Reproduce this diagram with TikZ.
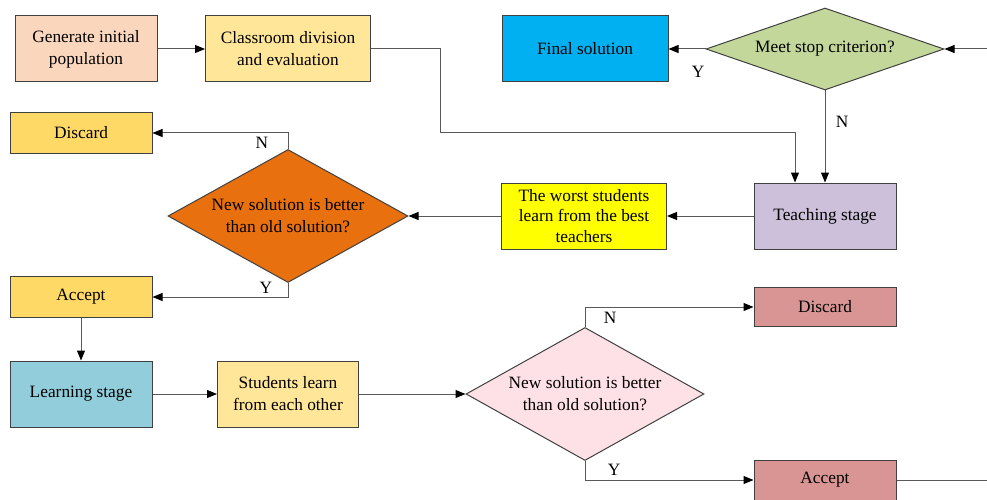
\documentclass[tikz,border=0pt]{standalone}
\usepackage{fontspec}
\setmainfont{Liberation Serif}
\usetikzlibrary{shapes.geometric,arrows.meta,calc}

\definecolor{peach}{RGB}{250,214,189}
\definecolor{sand}{RGB}{255,230,153}
\definecolor{gold}{RGB}{255,217,102}
\definecolor{rust}{RGB}{232,112,14}
\definecolor{sky}{RGB}{0,176,240}
\definecolor{sage}{RGB}{196,215,155}
\definecolor{lilac}{RGB}{204,192,218}
\definecolor{lemon}{RGB}{255,255,0}
\definecolor{teal}{RGB}{146,205,220}
\definecolor{blush}{RGB}{253,225,231}
\definecolor{rose}{RGB}{217,149,148}
\definecolor{boxgray}{RGB}{64,64,64}
\definecolor{linegray}{RGB}{89,89,89}

\tikzset{every picture/.style={line width=0.75pt}}
\tikzset{
  blk/.style={draw=boxgray, align=center, inner sep=0.75pt, font=\fontsize{13}{16.5}\selectfont},
  cond/.style={diamond, draw=boxgray, aspect=1.8, inner sep=0pt, align=center, font=\fontsize{13}{16.5}\selectfont},
  conn/.style={draw=linegray, -{Triangle[length=7.5pt,width=6pt,color=black]}},
  yn/.style={inner sep=0.75pt, font=\fontsize{13}{15}\selectfont},
}

\begin{document}
\begin{tikzpicture}[x=0.75pt,y=0.75pt,yscale=-1,xscale=1]
\useasboundingbox (0,0) rectangle (987,499);

%Shape: Rectangle [top row]
\node[blk, fill=peach, minimum width=106.5pt, minimum height=49.5pt] (gen) at (86,49) {Generate initial\\population};
\node[blk, fill=sand, minimum width=123.75pt, minimum height=49.5pt] (cls) at (288,49) {Classroom division\\and evaluation};
\node[blk, fill=sky, minimum width=124.5pt, minimum height=49.5pt] (final) at (585,49) {Final solution};
%Shape: Diamond
\node[cond, fill=sage, aspect=2.9, minimum width=178.5pt, minimum height=61.5pt] (stop) at (825,49) {Meet stop criterion?};
\coordinate (rin) at (987,49);

%Shape: Rectangle [teaching]
\node[blk, fill=gold, minimum width=106.5pt, minimum height=30pt] (disc1) at (81,133) {Discard};
\node[cond, fill=rust, minimum width=180pt, minimum height=99.75pt] (cmp1) at (288,216) {New solution is better\\than old solution?};
\node[blk, fill=lemon, minimum width=123.75pt, minimum height=49.5pt, font=\fontsize{13}{15.4}\selectfont] (worst) at (584,216) {The worst students\\learn from the best\\teachers};
\node[blk, fill=lilac, minimum width=106.5pt, minimum height=49.5pt] (teach) at (825,216) {Teaching stage};
\node[blk, fill=gold, minimum width=106.5pt, minimum height=30.75pt] (acc1) at (81,297) {Accept};

%Shape: Rectangle [learning]
\node[blk, fill=teal, minimum width=106.5pt, minimum height=49.5pt] (learn) at (81,394) {Learning stage};
\node[blk, fill=sand, minimum width=105.75pt, minimum height=49.5pt] (stud) at (288,394) {Students learn\\from each other};
\node[cond, fill=blush, minimum width=178.5pt, minimum height=99.75pt] (cmp2) at (585,394) {New solution is better\\than old solution?};
\node[blk, fill=rose, minimum width=106.5pt, minimum height=29.5pt] (disc2) at (825,307) {Discard};
\node[blk, fill=rose, minimum width=106.5pt, minimum height=30pt] (acc2) at (825,480) {Accept};
\coordinate (rout) at (987,480);
\coordinate (bend) at (440,133);

%Straight Lines
\draw[conn] (gen) -- (cls);
\draw[conn] (cls.east) -| (bend) -| ($(teach.north)+(-30,0)$);
\draw[conn] (rin) -- (stop.east);
\draw[conn] (stop.west) -- (final.east);
\draw[conn] (stop.south) -- (teach.north);
\draw[conn] (teach.west) -- (worst.east);
\draw[conn] (worst.west) -- (cmp1.east);
\draw[conn] (cmp1.north) |- (disc1.east);
\draw[conn] (cmp1.south) |- (acc1.east);
\draw[conn] (acc1.south) -- (learn.north);
\draw[conn] (learn.east) -- (stud.west);
\draw[conn] (stud.east) -- (cmp2.west);
\draw[conn] (cmp2.north) |- (disc2.west);
\draw[conn] (cmp2.south) |- (acc2.west);
\draw[draw=linegray] (acc2.east) -- (rout);

% Text Node
\node[yn] (y1) at (698,72) {Y};
\node[yn] (n1) at (842,122) {N};
\node[yn] (n2) at (262,143) {N};
\node[yn] (y2) at (266,288) {Y};
\node[yn] (n3) at (610,318) {N};
\node[yn] (y3) at (614,470) {Y};

\end{tikzpicture}
\end{document}
